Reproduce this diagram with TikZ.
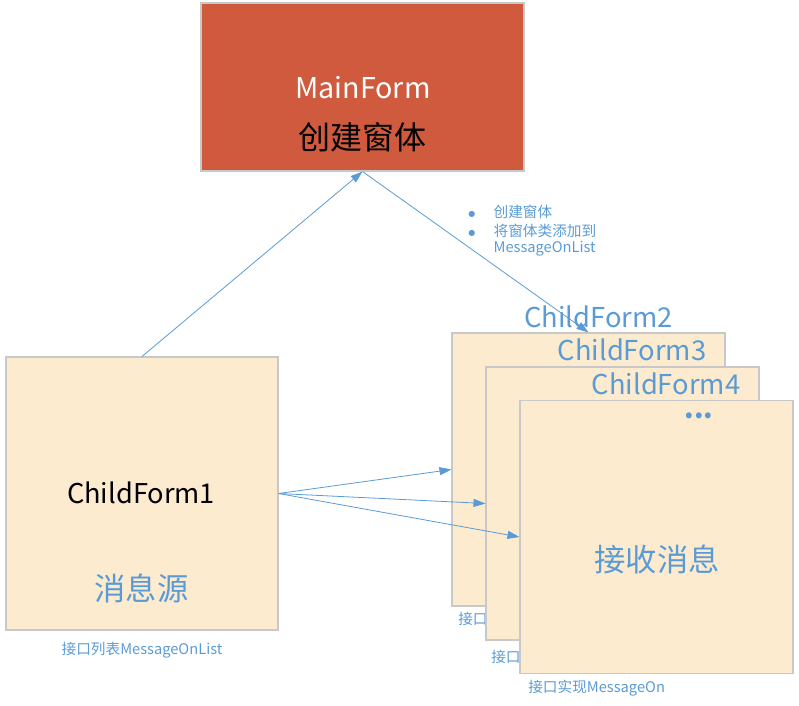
\documentclass[tikz,border=0pt]{standalone}
\usepackage{fontspec}
\setmainfont{Noto Sans CJK SC}
\newfontfamily\symfont{DejaVu Sans}
\usetikzlibrary{arrows.meta}
\definecolor{mainred}{RGB}{208,90,62}
\definecolor{boxfill}{RGB}{252,235,207}
\definecolor{linkblue}{RGB}{91,155,213}
\definecolor{edgegray}{RGB}{200,200,200}
\newcommand{\bluebullet}{\raisebox{0.6pt}{\symfont\fontsize{6}{6}\selectfont ●}}
\tikzset{
  formbox/.style={draw=edgegray, line width=0.8pt, fill=boxfill, minimum width=204.75pt, minimum height=204.75pt, inner sep=0pt},
  mainbox/.style={draw=edgegray, line width=0.8pt, fill=mainred, minimum width=242.25pt, minimum height=126pt, inner sep=0pt},
  conn/.style={color=linkblue, line width=0.6pt, -{Triangle[length=9pt,width=6pt]}},
  smalllabel/.style={text=linkblue, font=\fontsize{11}{13}\selectfont, inner sep=0pt},
  biglabel/.style={text=linkblue, font=\fontsize{20.5}{24}\selectfont, inner sep=0pt, text height=15pt, text depth=0pt},
  cjkbig/.style={font=\fontsize{23.5}{26}\selectfont, inner sep=0pt},
}
\begin{document}
\begin{tikzpicture}[x=0.75pt,y=-0.75pt]
\useasboundingbox (0,0) rectangle (799,706);
% main form
\node[mainbox] (main) at (362.5,87) {};
\node[text=white, font=\fontsize{21.5}{24}\selectfont, inner sep=0pt] (mainname) at (363,88) {MainForm};
\node[text=black, cjkbig, font=\fontsize{24}{26}\selectfont] (maintext) at (362,137) {创建窗体};
% child form 1
\node[formbox, minimum width=204pt] (c1) at (142,493.5) {};
\node[text=black, font=\fontsize{20.4}{24}\selectfont, inner sep=0pt] (c1name) at (141,493) {ChildForm1};
\node[text=linkblue, cjkbig] (c1text) at (141.5,588) {消息源};
\node[smalllabel] (c1lab) at (142,650) {接口列表MessageOnList};
% stack
\node[smalllabel, anchor=west] (c2lab) at (458,620) {接口实现MessageOn};
\node[formbox] (c2) at (588.5,469.5) {};
\node[biglabel] (c2name) at (598.5,317) {ChildForm2};
\node[biglabel] (c3name) at (632,350) {ChildForm3};
\node[smalllabel, anchor=west] (c3lab) at (491,658) {接口实现MessageOn};
\node[formbox] (c3) at (622.5,503.5) {};
\node[biglabel] (c4name) at (666,384) {ChildForm4};
\node[smalllabel, anchor=west] (c4lab) at (528,688) {接口实现MessageOn};
\node[formbox] (c4) at (656.5,537) {};
\node[text=linkblue, font=\bfseries\fontsize{20.5}{22}\selectfont, inner sep=0pt, text height=4pt, text depth=0pt, anchor=base] (dots) at (699,418) {...};
\node[text=linkblue, cjkbig] (c4text) at (657,559) {接收消息};
% bullet notes
\node[smalllabel, anchor=north west, align=left] (notes) at (468,205) {%
  \makebox[19pt][l]{\bluebullet}创建窗体\\[1pt]
  \makebox[19pt][l]{\bluebullet}将窗体类添加到\\[-1pt]
  \makebox[19pt][l]{}MessageOnList};
% connectors
\draw[conn] (c1.north) -- (main.south);
\draw[conn] (main.south) -- (c2.north);
\draw[conn] (c1.east) -- (c2.west);
\draw[conn] (c1.east) -- (c3.west);
\draw[conn] (c1.east) -- (c4.west);
\end{tikzpicture}
\end{document}
